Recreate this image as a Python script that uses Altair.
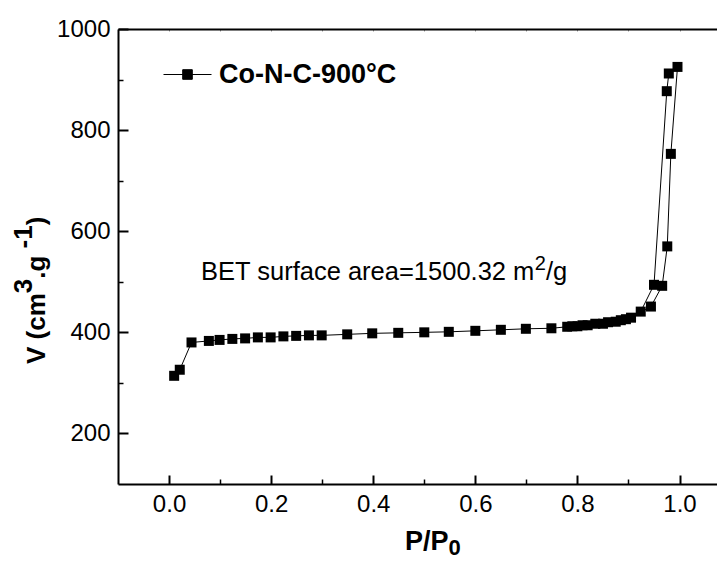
import altair as alt
import pandas as pd

FONT = "Liberation Sans"

# ---------------- data ----------------
series_name = "Co-N-C-900°C"

ads_x = [0.010, 0.021, 0.044, 0.078, 0.099, 0.124, 0.149, 0.174, 0.199, 0.224,
         0.249, 0.274, 0.299, 0.349, 0.398, 0.449, 0.500, 0.548, 0.600, 0.650,
         0.699, 0.749, 0.780, 0.800, 0.820, 0.850, 0.875, 0.895, 0.924, 0.950,
         0.975, 0.979, 0.996]
ads_y = [314, 326, 380, 383, 385, 387, 388, 390, 390, 392,
         393, 394, 394, 396, 398, 399, 400, 401, 403, 405,
         407, 408, 411, 412, 414, 417, 421, 426, 441, 494,
         877, 912, 925]

des_x = [0.983, 0.976, 0.966, 0.944, 0.905, 0.885, 0.860, 0.835, 0.810, 0.790]
des_y = [753, 570, 492, 451, 429, 424, 420, 417, 414, 412]

x_major = [0.0, 0.2, 0.4, 0.6, 0.8, 1.0]
x_minor = [0.1, 0.3, 0.5, 0.7, 0.9]
x_top = [-0.1, 0.0, 0.1, 0.2, 0.3, 0.4, 0.5, 0.6, 0.7, 0.8, 0.9, 1.0]
y_major = [200, 400, 600, 800, 1000]
y_minor = [300, 500, 700, 900]

xs = ads_x + des_x
ys = ads_y + des_y
df = pd.DataFrame({"x": xs, "y": ys, "idx": list(range(len(xs))),
                   "series": [series_name] * len(xs)})

# ---------------- layout ----------------
W, H = 599, 455
XDOM = [-0.1, 1.0734]
YDOM = [100, 1000]

REG = {" ": 278, "B": 667, "E": 667, "T": 611, "s": 500, "u": 556, "r": 333,
       "f": 278, "a": 556, "c": 500, "e": 556, "=": 584, ".": 278, "m": 833,
       "/": 278, "g": 556, "2": 556}
BOLD = {" ": 278, "V": 667, "(": 333, ")": 333, "c": 556, "m": 889, ".": 278,
        "g": 611, "-": 333, "P": 667, "/": 278}


def tw(text, size, bold=False):
    tab = BOLD if bold else REG
    return sum(tab.get(ch, 556) for ch in text) * size / 1000.0


def label(text, x, y, size, bold=False, angle=0):
    props = dict(align="left", baseline="alphabetic", font=FONT, fontSize=size,
                 fontWeight="bold" if bold else "normal", color="black")
    if angle:
        props["angle"] = angle
    return alt.Chart(pd.DataFrame({"t": [text]})).mark_text(**props).encode(
        x=alt.value(x), y=alt.value(y), text="t:N")


xs_scale = alt.Scale(domain=XDOM, nice=False, zero=False)
ys_scale = alt.Scale(domain=YDOM, nice=False, zero=False)

base = alt.Chart(df)

ax_x1 = alt.Axis(orient="bottom", values=x_major, format=".1f", ticks=False,
                 tickSize=0, labelFont=FONT, labelFontSize=24, labelColor="black",
                 labelPadding=8, domainColor="black", domainWidth=2, grid=False,
                 title=None)
ax_y1 = alt.Axis(orient="left", values=y_major, format="d", ticks=False,
                 tickSize=0, labelFont=FONT, labelFontSize=24, labelColor="black",
                 labelPadding=8, domainColor="black", domainWidth=2, grid=False,
                 title=None)

line = base.mark_line(color="black", strokeWidth=1).encode(
    x=alt.X("x:Q", scale=xs_scale, axis=ax_x1),
    y=alt.Y("y:Q", scale=ys_scale, axis=ax_y1),
    order="idx:Q",
)

legend = alt.Legend(orient="none", legendX=45, legendY=21, title=None,
                    symbolType="M-1,0H1M-0.2,-0.2H0.2V0.2H-0.2Z",
                    symbolSize=2304, symbolStrokeWidth=1,
                    symbolStrokeColor="black", symbolFillColor="black",
                    labelFont=FONT, labelFontSize=27, labelFontWeight="bold",
                    labelColor="black", labelOffset=7, labelLimit=500, padding=0)

points = base.mark_point(shape="square", filled=True, size=100, opacity=1).encode(
    x=alt.X("x:Q", scale=xs_scale,
            axis=alt.Axis(orient="top", offset=-H, values=x_major, labels=False,
                          domain=False, tickSize=9, tickWidth=2,
                          tickColor="black", grid=False, title=None)),
    y=alt.Y("y:Q", scale=ys_scale,
            axis=alt.Axis(orient="right", offset=-W, values=y_major, labels=False,
                          domain=False, tickSize=10, tickWidth=2,
                          tickColor="black", grid=False, title=None)),
    color=alt.Color("series:N", scale=alt.Scale(range=["black"]), legend=legend),
)

minor = base.mark_point(opacity=0).encode(
    x=alt.X("x:Q", scale=xs_scale,
            axis=alt.Axis(orient="top", offset=-H, values=x_minor, labels=False,
                          domain=False, tickSize=5, tickWidth=1.5,
                          tickColor="black", grid=False, title=None)),
    y=alt.Y("y:Q", scale=ys_scale,
            axis=alt.Axis(orient="right", offset=-W, values=y_minor, labels=False,
                          domain=False, tickSize=5, tickWidth=1.5,
                          tickColor="black", grid=False, title=None)),
)

frame_top = base.mark_point(opacity=0).encode(
    x=alt.X("x:Q", scale=xs_scale,
            axis=alt.Axis(orient="bottom", offset=-H, values=x_top, labels=False,
                          domain=True, domainColor="black", domainWidth=2,
                          tickSize=2, tickWidth=1, tickColor="#999999",
                          grid=False, title=None)),
    y=alt.Y("y:Q", scale=ys_scale, axis=None),
)

# ---------------- text annotations ----------------
texts = []
# BET text with superscript
bx, by = 83, 251
t1 = "BET surface area=1500.32 m"
texts.append(label(t1, bx, by, 25.5))
sx = bx + tw(t1, 25.5)
texts.append(label("2", sx, by - 10, 20))
texts.append(label("/g", sx + tw("2", 20), by, 25.5))

# x-axis title P/P0
px, py = 287, 521
texts.append(label("P/P", px, py, 27, bold=True))
texts.append(label("0", px + tw("P/P", 27, True), py + 5, 22, bold=True))

# y-axis title V (cm3 . g-1), rotated
yb = -73          # baseline x
ystart = 335      # start (bottom) y
size = 26
y_pieces = [("V (cm", 0), ("3", 13), (" .g", 0), ("-1", 13), (")", 0)]
cur = ystart
for txt, raise_ in y_pieces:
    texts.append(label(txt, yb - raise_, cur, size, bold=True, angle=270))
    cur -= tw(txt, size, True)

chart = alt.layer(line, points, minor, frame_top, *texts).resolve_axis(
    x="independent", y="independent"
).properties(
    width=W, height=H,
    autosize=alt.AutoSizeParams(type="none"),
    padding={"left": 110, "top": 21, "right": 0, "bottom": 75},
).configure_view(strokeWidth=0)

chart.save("out.html", embed_options={"renderer": "svg", "actions": False})
